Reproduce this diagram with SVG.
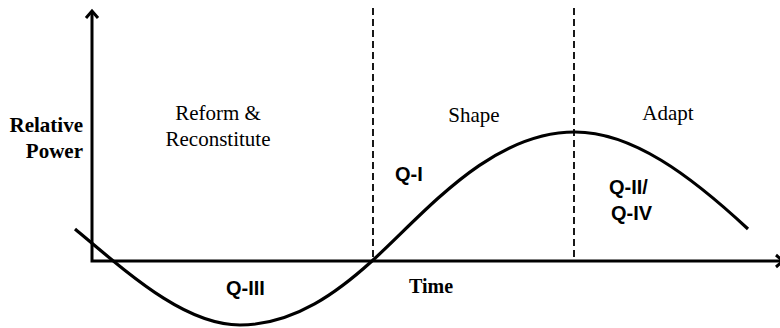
<svg xmlns="http://www.w3.org/2000/svg" width="780" height="328" viewBox="0 0 780 328">
<style>
.serif{font-family:"Liberation Serif","Times New Roman",serif;font-size:21px;fill:#000}
.sb{font-family:"Liberation Serif","Times New Roman",serif;font-size:21px;font-weight:bold;fill:#000}
.q{font-family:"Liberation Sans",Arial,sans-serif;font-size:20px;font-weight:bold;fill:#000}
.axis{stroke:#000;stroke-width:3;fill:none}
.dash{stroke:#000;stroke-width:1.8;stroke-dasharray:7 4;fill:none}
.curve{stroke:#000;stroke-width:3.2;fill:none;stroke-linecap:butt}
</style>
<rect width="780" height="328" fill="#fff"/>
<g id="connectors">
  <line class="dash" x1="373" y1="8" x2="373" y2="261"/>
  <line class="dash" x1="574" y1="8" x2="574" y2="261"/>
  <path class="axis" d="M92,12 L92,261 L782,261"/>
  <path class="axis" d="M86,18 L92,11 L98,18" stroke-width="2.6"/>
  <path class="axis" d="M776,255 L783,261 L776,267" stroke-width="2.6"/>
  <path class="curve" d="M75,229 C130,275 185,325 240,325 C295,325 340,290 372,261 C425,213 490,132 575,132 C632,132 690,175 748,229"/>
</g>
<g id="label-relative-power">
  <text class="sb" x="83" y="132" text-anchor="end">Relative</text>
  <text class="sb" x="83" y="158" text-anchor="end">Power</text>
</g>
<g id="label-time"><text class="sb" x="409" y="293" style="font-size:20px">Time</text></g>
<g id="phase-reform">
  <text class="serif" x="218" y="120" text-anchor="middle">Reform &amp;</text>
  <text class="serif" x="218" y="146" text-anchor="middle">Reconstitute</text>
</g>
<g id="phase-shape"><text class="serif" x="474" y="122" text-anchor="middle">Shape</text></g>
<g id="phase-adapt"><text class="serif" x="668" y="120" text-anchor="middle">Adapt</text></g>
<g id="q1"><text class="q" x="395" y="181">Q-I</text></g>
<g id="q2q4">
  <text class="q" x="609" y="194">Q-II/</text>
  <text class="q" x="611" y="220">Q-IV</text>
</g>
<g id="q3"><text class="q" x="226" y="295">Q-III</text></g>
</svg>
